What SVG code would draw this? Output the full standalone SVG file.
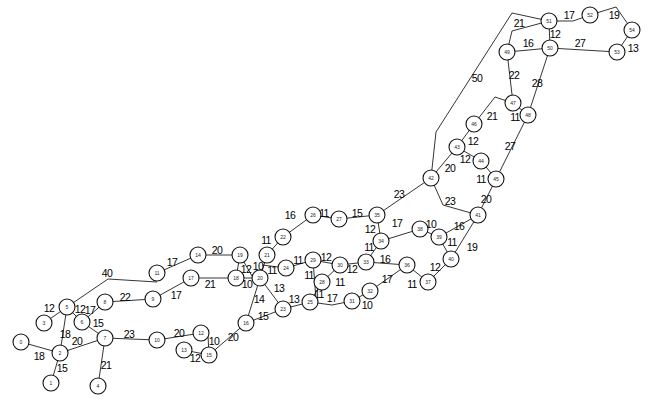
<svg xmlns="http://www.w3.org/2000/svg" width="654" height="399" viewBox="0 0 654 399">
<style>
.e{fill:none;stroke:#111;stroke-width:0.85}
.n circle{fill:#fff;stroke:#111;stroke-width:1.1}
.n text{font-family:"Liberation Sans",Arial,sans-serif;font-size:5px;fill:#222;text-anchor:middle;dominant-baseline:central}
.l{font-family:"Liberation Sans",Arial,sans-serif;font-size:10.5px;fill:#000;text-anchor:middle;dominant-baseline:central;letter-spacing:-0.7px}
</style>
<rect width="654" height="399" fill="#fff"/>
<g id="connectors">
<path class="e" d="M21,342L60,353"/>
<path class="e" d="M60,353L51,383"/>
<path class="e" d="M60,353L67,307"/>
<path class="e" d="M44,323L67,307"/>
<path class="e" d="M67,307L82,322"/>
<path class="e" d="M82,322L105,302"/>
<path class="e" d="M82,322L105,338"/>
<path class="e" d="M60,353L105,338"/>
<path class="e" d="M105,338L98,386"/>
<path class="e" d="M67,307L108,279L157,282"/>
<path class="e" d="M105,338L157,340"/>
<path class="e" d="M105,302L153,299"/>
<path class="e" d="M157,273L198,255"/>
<path class="e" d="M198,255L240,255"/>
<path class="e" d="M153,299L191,278"/>
<path class="e" d="M191,278L236,278"/>
<path class="e" d="M157,340L201,333"/>
<path class="e" d="M208,335L209,355"/>
<path class="e" d="M184,350L209,355"/>
<path class="e" d="M209,355L246,323"/>
<path class="e" d="M240,255L252,276L260,278"/>
<path class="e" d="M240,255L236,278"/>
<path class="e" d="M236,278L260,278"/>
<path class="e" d="M267,255L260,278"/>
<path class="e" d="M262,265L286,268"/>
<path class="e" d="M267,255L283,237"/>
<path class="e" d="M260,278L246,323"/>
<path class="e" d="M260,278L283,309"/>
<path class="e" d="M246,323L283,309"/>
<path class="e" d="M283,237L313,215"/>
<path class="e" d="M286,268L313,260"/>
<path class="e" d="M313,215L339,219"/>
<path class="e" d="M339,219L377,215"/>
<path class="e" d="M377,215L431,178"/>
<path class="e" d="M377,215L381,241"/>
<path class="e" d="M381,241L420,229"/>
<path class="e" d="M381,241L366,262"/>
<path class="e" d="M313,260L340,265"/>
<path class="e" d="M340,265L366,262"/>
<path class="e" d="M366,262L407,265"/>
<path class="e" d="M313,260L316,300"/>
<path class="e" d="M322,282L340,265"/>
<path class="e" d="M310,302L322,282"/>
<path class="e" d="M310,302L332,305L352,301"/>
<path class="e" d="M352,301L370,291"/>
<path class="e" d="M370,291L407,265"/>
<path class="e" d="M407,265L428,282"/>
<path class="e" d="M283,309L310,302"/>
<path class="e" d="M431,178L457,147"/>
<path class="e" d="M431,178L443,205L478,215"/>
<path class="e" d="M496,179L478,215"/>
<path class="e" d="M478,215L439,237"/>
<path class="e" d="M478,215L451,259"/>
<path class="e" d="M439,237L451,259"/>
<path class="e" d="M420,229L439,237"/>
<path class="e" d="M428,282L451,259"/>
<path class="e" d="M481,161L496,179"/>
<path class="e" d="M457,147L481,161"/>
<path class="e" d="M457,147L474,124"/>
<path class="e" d="M474,124L495,97L513,103"/>
<path class="e" d="M513,103L528,115"/>
<path class="e" d="M528,115L496,179"/>
<path class="e" d="M431,178L436,132L512,13L549,21"/>
<path class="e" d="M549,21L573,21L590,15"/>
<path class="e" d="M590,15L616,7L632,30"/>
<path class="e" d="M632,30L617,52"/>
<path class="e" d="M550,48L617,52"/>
<path class="e" d="M549,21L550,48"/>
<path class="e" d="M550,48L507,52"/>
<path class="e" d="M549,21L512,31L507,52"/>
<path class="e" d="M507,52L513,103"/>
<path class="e" d="M550,48L528,115"/>
<text class="l" x="39" y="356">18</text>
<text class="l" x="62" y="368">15</text>
<text class="l" x="65" y="334">18</text>
<text class="l" x="49" y="308">12</text>
<text class="l" x="80" y="309">12</text>
<text class="l" x="90" y="310">17</text>
<text class="l" x="98" y="322.5">15</text>
<text class="l" x="77" y="341">20</text>
<text class="l" x="106" y="365">21</text>
<text class="l" x="107" y="273">40</text>
<text class="l" x="129" y="334">23</text>
<text class="l" x="125" y="297">22</text>
<text class="l" x="172" y="262">17</text>
<text class="l" x="217" y="250">20</text>
<text class="l" x="176" y="295">17</text>
<text class="l" x="210" y="284">21</text>
<text class="l" x="179" y="333">20</text>
<text class="l" x="214" y="341">10</text>
<text class="l" x="195" y="358">12</text>
<text class="l" x="233" y="337">20</text>
<text class="l" x="246" y="269">12</text>
<text class="l" x="247" y="284">10</text>
<text class="l" x="258" y="266">10</text>
<text class="l" x="272" y="270">11</text>
<text class="l" x="266" y="240">11</text>
<text class="l" x="259" y="299">14</text>
<text class="l" x="279" y="288">13</text>
<text class="l" x="263" y="316">15</text>
<text class="l" x="290" y="215">16</text>
<text class="l" x="298" y="260">11</text>
<text class="l" x="324" y="213">11</text>
<text class="l" x="357" y="213">15</text>
<text class="l" x="399" y="194">23</text>
<text class="l" x="370" y="229">12</text>
<text class="l" x="397" y="223">17</text>
<text class="l" x="369" y="247">11</text>
<text class="l" x="326" y="257">12</text>
<text class="l" x="352" y="269">12</text>
<text class="l" x="385" y="259">16</text>
<text class="l" x="309" y="275">11</text>
<text class="l" x="340" y="282">11</text>
<text class="l" x="319" y="294">11</text>
<text class="l" x="332" y="298">17</text>
<text class="l" x="367" y="305">10</text>
<text class="l" x="387" y="279">17</text>
<text class="l" x="412" y="284">11</text>
<text class="l" x="294" y="299">13</text>
<text class="l" x="450" y="168">20</text>
<text class="l" x="450" y="201">23</text>
<text class="l" x="486" y="199">20</text>
<text class="l" x="459" y="226">16</text>
<text class="l" x="472" y="247">19</text>
<text class="l" x="452" y="242">11</text>
<text class="l" x="431" y="224">10</text>
<text class="l" x="435" y="267">12</text>
<text class="l" x="481" y="179">11</text>
<text class="l" x="465" y="159">12</text>
<text class="l" x="473" y="141">12</text>
<text class="l" x="492" y="116">21</text>
<text class="l" x="515" y="117">11</text>
<text class="l" x="510" y="146">27</text>
<text class="l" x="477" y="78">50</text>
<text class="l" x="569" y="15">17</text>
<text class="l" x="614" y="15">19</text>
<text class="l" x="633" y="48">13</text>
<text class="l" x="580" y="43">27</text>
<text class="l" x="555" y="34">12</text>
<text class="l" x="528" y="43">16</text>
<text class="l" x="519" y="23">21</text>
<text class="l" x="514" y="75">22</text>
<text class="l" x="537" y="83">28</text>
</g>
<g id="node-0" class="n"><circle cx="21" cy="342" r="8"/><text x="21" y="342">0</text></g>
<g id="node-1" class="n"><circle cx="51" cy="383" r="8"/><text x="51" y="383">1</text></g>
<g id="node-2" class="n"><circle cx="60" cy="353" r="8"/><text x="60" y="353">2</text></g>
<g id="node-3" class="n"><circle cx="44" cy="323" r="8"/><text x="44" y="323">3</text></g>
<g id="node-4" class="n"><circle cx="98" cy="386" r="8"/><text x="98" y="386">4</text></g>
<g id="node-5" class="n"><circle cx="67" cy="307" r="8"/><text x="67" y="307">5</text></g>
<g id="node-6" class="n"><circle cx="82" cy="322" r="8"/><text x="82" y="322">6</text></g>
<g id="node-7" class="n"><circle cx="105" cy="338" r="8"/><text x="105" y="338">7</text></g>
<g id="node-8" class="n"><circle cx="105" cy="302" r="8"/><text x="105" y="302">8</text></g>
<g id="node-9" class="n"><circle cx="153" cy="299" r="8"/><text x="153" y="299">9</text></g>
<g id="node-10" class="n"><circle cx="157" cy="340" r="8"/><text x="157" y="340">10</text></g>
<g id="node-11" class="n"><circle cx="157" cy="273" r="8"/><text x="157" y="273">11</text></g>
<g id="node-12" class="n"><circle cx="201" cy="333" r="8"/><text x="201" y="333">12</text></g>
<g id="node-13" class="n"><circle cx="184" cy="350" r="8"/><text x="184" y="350">13</text></g>
<g id="node-14" class="n"><circle cx="198" cy="255" r="8"/><text x="198" y="255">14</text></g>
<g id="node-15" class="n"><circle cx="209" cy="355" r="8"/><text x="209" y="355">15</text></g>
<g id="node-16" class="n"><circle cx="246" cy="323" r="8"/><text x="246" y="323">16</text></g>
<g id="node-17" class="n"><circle cx="191" cy="278" r="8"/><text x="191" y="278">17</text></g>
<g id="node-18" class="n"><circle cx="236" cy="278" r="8"/><text x="236" y="278">18</text></g>
<g id="node-19" class="n"><circle cx="240" cy="255" r="8"/><text x="240" y="255">19</text></g>
<g id="node-20" class="n"><circle cx="260" cy="278" r="8"/><text x="260" y="278">20</text></g>
<g id="node-21" class="n"><circle cx="267" cy="255" r="8"/><text x="267" y="255">21</text></g>
<g id="node-22" class="n"><circle cx="283" cy="237" r="8"/><text x="283" y="237">22</text></g>
<g id="node-23" class="n"><circle cx="283" cy="309" r="8"/><text x="283" y="309">23</text></g>
<g id="node-24" class="n"><circle cx="286" cy="268" r="8"/><text x="286" y="268">24</text></g>
<g id="node-25" class="n"><circle cx="310" cy="302" r="8"/><text x="310" y="302">25</text></g>
<g id="node-26" class="n"><circle cx="313" cy="215" r="8"/><text x="313" y="215">26</text></g>
<g id="node-27" class="n"><circle cx="339" cy="219" r="8"/><text x="339" y="219">27</text></g>
<g id="node-28" class="n"><circle cx="322" cy="282" r="8"/><text x="322" y="282">28</text></g>
<g id="node-29" class="n"><circle cx="313" cy="260" r="8"/><text x="313" y="260">29</text></g>
<g id="node-30" class="n"><circle cx="340" cy="265" r="8"/><text x="340" y="265">30</text></g>
<g id="node-31" class="n"><circle cx="352" cy="301" r="8"/><text x="352" y="301">31</text></g>
<g id="node-32" class="n"><circle cx="370" cy="291" r="8"/><text x="370" y="291">32</text></g>
<g id="node-33" class="n"><circle cx="366" cy="262" r="8"/><text x="366" y="262">33</text></g>
<g id="node-34" class="n"><circle cx="381" cy="241" r="8"/><text x="381" y="241">34</text></g>
<g id="node-35" class="n"><circle cx="377" cy="215" r="8"/><text x="377" y="215">35</text></g>
<g id="node-36" class="n"><circle cx="407" cy="265" r="8"/><text x="407" y="265">36</text></g>
<g id="node-37" class="n"><circle cx="428" cy="282" r="8"/><text x="428" y="282">37</text></g>
<g id="node-38" class="n"><circle cx="420" cy="229" r="8"/><text x="420" y="229">38</text></g>
<g id="node-39" class="n"><circle cx="439" cy="237" r="8"/><text x="439" y="237">39</text></g>
<g id="node-40" class="n"><circle cx="451" cy="259" r="8"/><text x="451" y="259">40</text></g>
<g id="node-41" class="n"><circle cx="478" cy="215" r="8"/><text x="478" y="215">41</text></g>
<g id="node-42" class="n"><circle cx="431" cy="178" r="8"/><text x="431" y="178">42</text></g>
<g id="node-43" class="n"><circle cx="457" cy="147" r="8"/><text x="457" y="147">43</text></g>
<g id="node-44" class="n"><circle cx="481" cy="161" r="8"/><text x="481" y="161">44</text></g>
<g id="node-45" class="n"><circle cx="496" cy="179" r="8"/><text x="496" y="179">45</text></g>
<g id="node-46" class="n"><circle cx="474" cy="124" r="8"/><text x="474" y="124">46</text></g>
<g id="node-47" class="n"><circle cx="513" cy="103" r="8"/><text x="513" y="103">47</text></g>
<g id="node-48" class="n"><circle cx="528" cy="115" r="8"/><text x="528" y="115">48</text></g>
<g id="node-49" class="n"><circle cx="507" cy="52" r="8"/><text x="507" y="52">49</text></g>
<g id="node-50" class="n"><circle cx="550" cy="48" r="8"/><text x="550" y="48">50</text></g>
<g id="node-51" class="n"><circle cx="549" cy="21" r="8"/><text x="549" y="21">51</text></g>
<g id="node-52" class="n"><circle cx="590" cy="15" r="8"/><text x="590" y="15">52</text></g>
<g id="node-53" class="n"><circle cx="617" cy="52" r="8"/><text x="617" y="52">53</text></g>
<g id="node-54" class="n"><circle cx="632" cy="30" r="8"/><text x="632" y="30">54</text></g>
</svg>
